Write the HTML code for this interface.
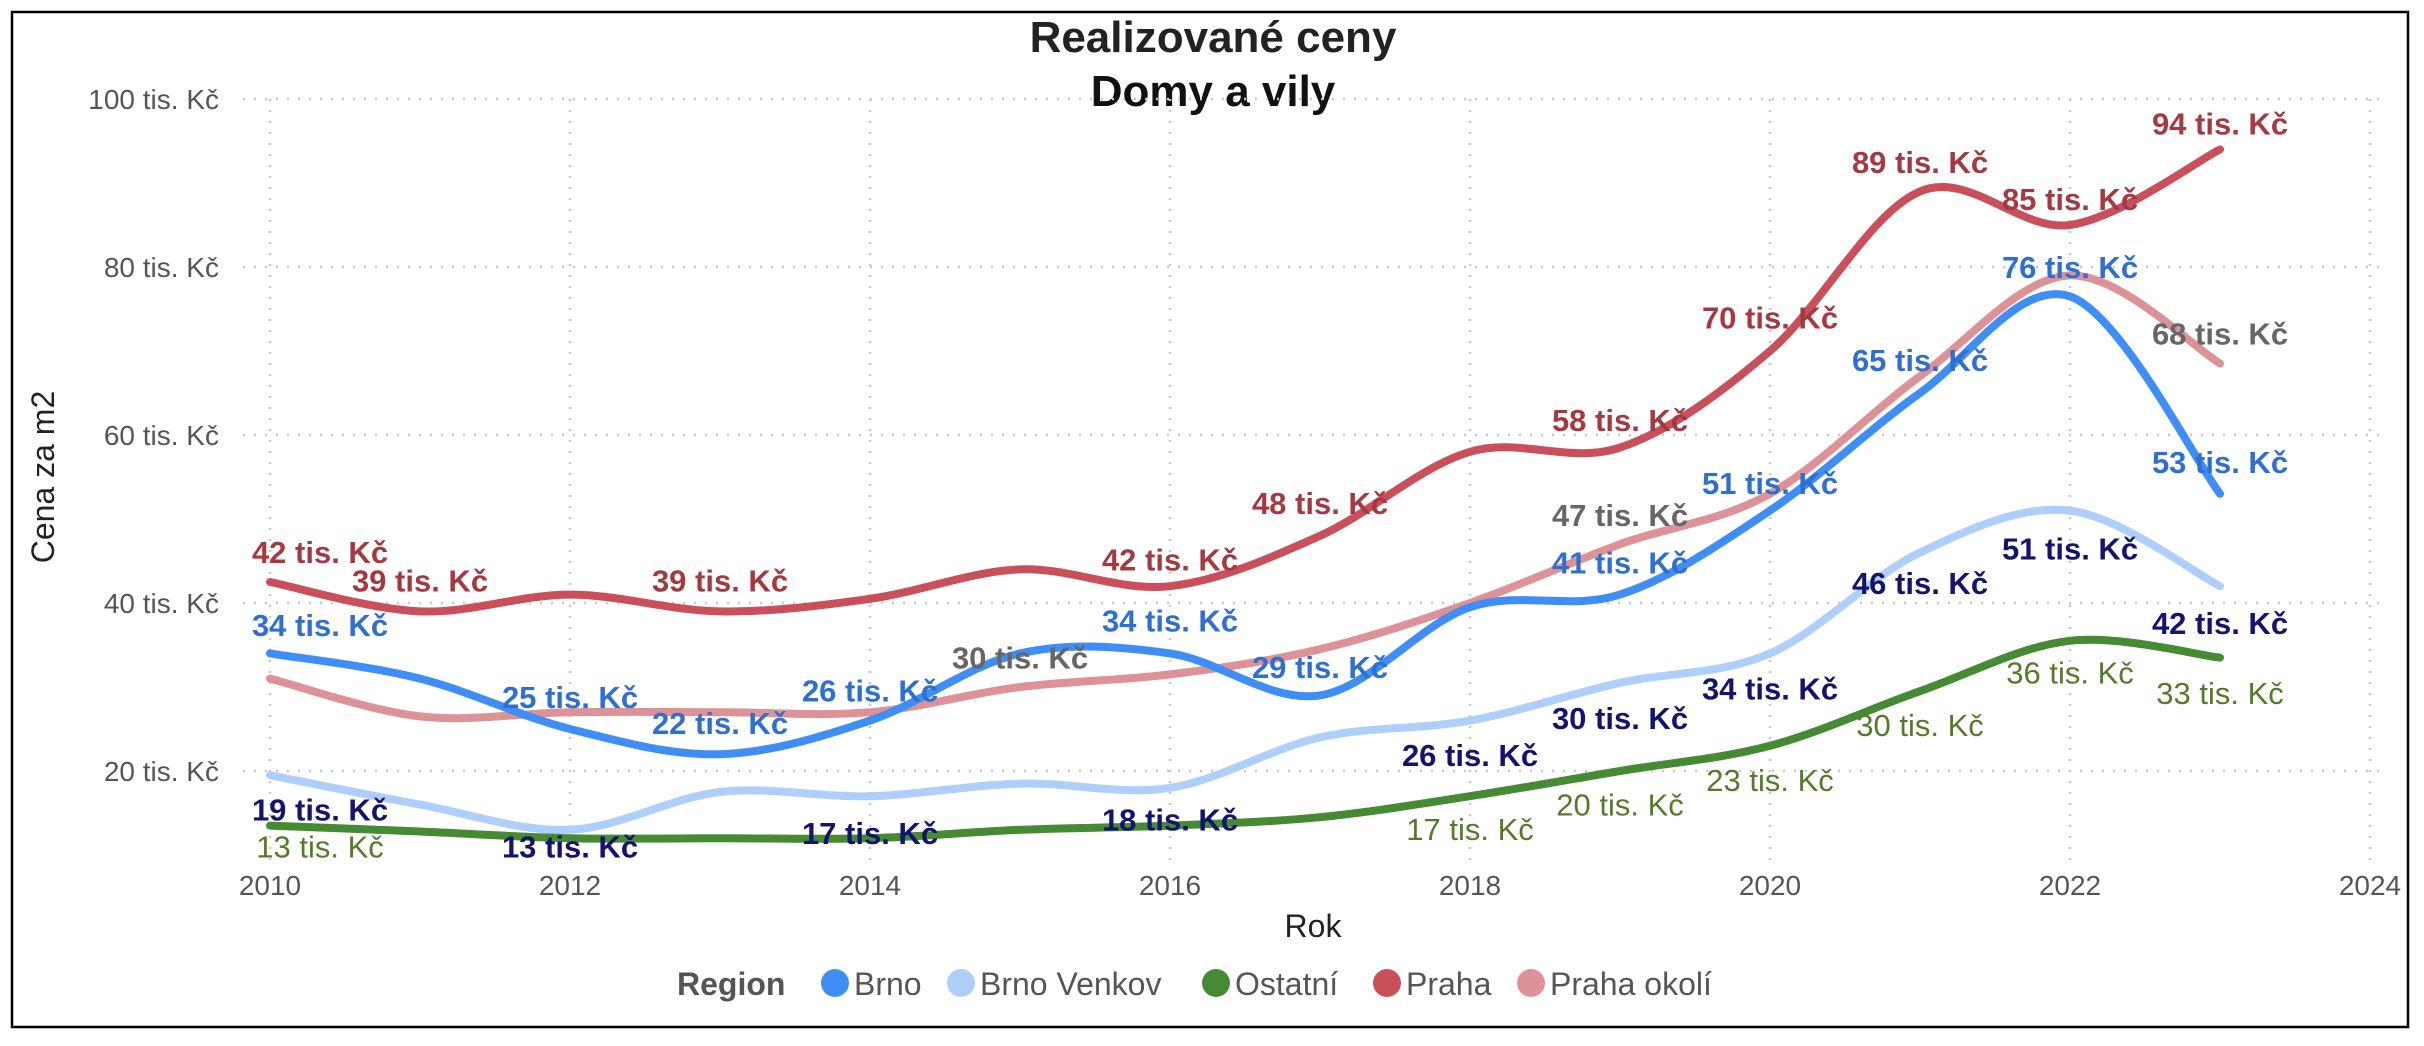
<!DOCTYPE html>
<html><head><meta charset="utf-8"><style>
html,body{margin:0;padding:0;background:#fff;}
svg{display:block;font-family:"Liberation Sans",sans-serif;}
</style></head><body>
<svg id="chart" width="2424" height="1046" viewBox="0 0 2424 1046">
<rect x="12" y="12" width="2396" height="1015" fill="#fff" stroke="#000" stroke-width="2.5"/>
<text x="1213" y="52" text-anchor="middle" font-size="44" font-weight="bold" fill="#222">Realizované ceny</text>
<text x="1213" y="106" text-anchor="middle" font-size="44" font-weight="bold" fill="#111">Domy a vily</text>
<g id="grid"></g><g id="axes"></g><g id="lines"></g><g id="labels"></g>
<text x="1313" y="937" text-anchor="middle" font-size="32" fill="#222">Rok</text>
<text transform="translate(54,477) rotate(-90)" text-anchor="middle" font-size="32" fill="#222">Cena za m2</text>
<g id="legend">
<text x="677" y="995" font-size="32" font-weight="bold" fill="#555">Region</text>
</g>
</svg>
<script>
const years = [2010,2011,2012,2013,2014,2015,2016,2017,2018,2019,2020,2021,2022,2023];
const brno = [34,31,25,22,26,34,34,29,39.5,41,51,65,76.5,53];
const brnoVenkov = [19.5,16,13,17.5,17,18.5,18,24,26,30.5,34,46,51,42];
const ostatni = [13.5,12.8,12,12,12,13,13.5,14.5,17,20,23,29.5,35.5,33.5];
const praha = [42.5,39,41,39,40.5,44,42,48,58,58.5,70,89,85,94];
const prahaOkoli = [31,26.5,27,27,27,30,31.5,34.5,40,47,53,67,79,68.5];
const yTicks = [20,40,60,80,100];
const xTicks = [2010,2012,2014,2016,2018,2020,2022,2024];
const seriesNames = ["Brno","Brno Venkov","Ostatní","Praha","Praha okolí"];
// labels: year, printed value, label anchor value
const prahaLblYears = [2010,2011,2013,2016,2017,2019,2020,2021,2022,2023];
const prahaLblText = [42,39,39,42,48,58,70,89,85,94];
const prahaLblPos = [46.1,42.7,42.7,45.2,51.9,61.8,74,92.5,88.1,97.1];
const brnoLblYears = [2010,2012,2013,2014,2016,2017,2019,2020,2021,2022,2023];
const brnoLblText = [34,25,22,26,34,29,41,51,65,76,53];
const brnoLblPos = [37.4,28.8,25.7,29.6,37.9,32.4,44.8,54.3,68.9,80,56.8];
const okoliLblYears = [2015,2019,2023];
const okoliLblText = [30,47,68];
const okoliLblPos = [33.5,50.5,72.1];
const venkovLblYears = [2010,2012,2014,2016,2018,2019,2020,2021,2022,2023];
const venkovLblText = [19,13,17,18,26,30,34,46,51,42];
const venkovLblPos = [15.4,11,12.6,14.2,21.9,26.3,29.8,42.4,46.5,37.6];
const ostLblYears = [2010,2018,2019,2020,2021,2022,2023];
const ostLblText = [13,17,20,23,30,36,33];
const ostLblPos = [11,13.1,16,18.9,25.5,31.7,29.3];

const NS="http://www.w3.org/2000/svg";
const xS = y => 270 + (y-2010)*150;
const yS = v => 771 - (v-20)*8.4;
function mk(tag, attrs, parent){const e=document.createElementNS(NS,tag);for(const k in attrs)e.setAttribute(k,attrs[k]);parent.appendChild(e);return e;}
const grid=document.getElementById('grid'),axes=document.getElementById('axes'),lines=document.getElementById('lines'),labels=document.getElementById('labels'),legend=document.getElementById('legend');
yTicks.forEach(v=>{
  const l=mk('line',{x1:243,x2:2383,y1:yS(v),y2:yS(v),stroke:'#c8c8c8','stroke-width':2.5,'stroke-dasharray':'2 9'},grid);
  
  
  const t=mk('text',{x:219,y:yS(v)+10,'text-anchor':'end','font-size':28,fill:'#555'},axes);
  t.textContent=v+' tis. Kč';
  
  
});
xTicks.forEach(y=>{
  const l=mk('line',{x1:xS(y),x2:xS(y),y1:99,y2:862,stroke:'#c8c8c8','stroke-width':2.5,'stroke-dasharray':'2 9'},grid);
  
  
  const t=mk('text',{x:xS(y),y:895,'text-anchor':'middle','font-size':28,fill:'#555'},axes);
  t.textContent=y;
  
  
});
function smooth(vals){
  const p=vals.map((v,i)=>[xS(years[i]),yS(v)]);
  let d='M'+p[0][0]+','+p[0][1];
  for(let i=0;i<p.length-1;i++){
    const p0=p[i-1]||p[i],p1=p[i],p2=p[i+1],p3=p[i+2]||p2;
    const c1=[p1[0]+(p2[0]-p0[0])/6,p1[1]+(p2[1]-p0[1])/6];
    const c2=[p2[0]-(p3[0]-p1[0])/6,p2[1]-(p3[1]-p1[1])/6];
    d+=' C'+c1+' '+c2+' '+p2;
  }
  return d;
}
const series=[
 {vals:brnoVenkov,color:'#aecffa',name:'line-brno-venkov'},
 {vals:ostatni,color:'#468a33',name:'line-ostatni'},
 {vals:prahaOkoli,color:'#dc9296',name:'line-praha-okoli'},
 {vals:brno,color:'#3f8ef5',name:'line-brno'},
 {vals:praha,color:'#c9505a',name:'line-praha'}];
series.forEach(s=>{
  const p=mk('path',{d:smooth(s.vals),fill:'none',stroke:s.color,'stroke-width':8,'stroke-linecap':'round'},lines);
  
  
});
function addLabels(ys,txt,pos,color,bold,name){
  ys.forEach((y,i)=>{
    const x=xS(y)+(y===2010?50:0);
    const t=mk('text',{x:x,y:yS(pos[i])+11,'text-anchor':'middle','font-size':31,'font-weight':bold?'bold':'normal',fill:color},labels);
    t.textContent=txt[i]+' tis. Kč';
    
    
  });
}
addLabels(ostLblYears,ostLblText,ostLblPos,'#557a2a',false,'label-ostatni');
addLabels(venkovLblYears,venkovLblText,venkovLblPos,'#14146e',true,'label-brno-venkov');
addLabels(okoliLblYears,okoliLblText,okoliLblPos,'#666',true,'label-praha-okoli');
addLabels(brnoLblYears,brnoLblText,brnoLblPos,'#2f6fcf',true,'label-brno');
addLabels(prahaLblYears,prahaLblText,prahaLblPos,'#a43a41',true,'label-praha');
const legCols=['#3f8ef5','#aecffa','#468a33','#c9505a','#dc9296'];
const legDot=[835,961,1216,1387,1531];
seriesNames.forEach((n,i)=>{
  const c=mk('circle',{cx:legDot[i],cy:983,r:14,fill:legCols[i]},legend);
  
  
  const t=mk('text',{x:legDot[i]+19,y:995,'font-size':32,fill:'#555'},legend);
  t.textContent=n;
  
  
});
</script>
</body></html>
